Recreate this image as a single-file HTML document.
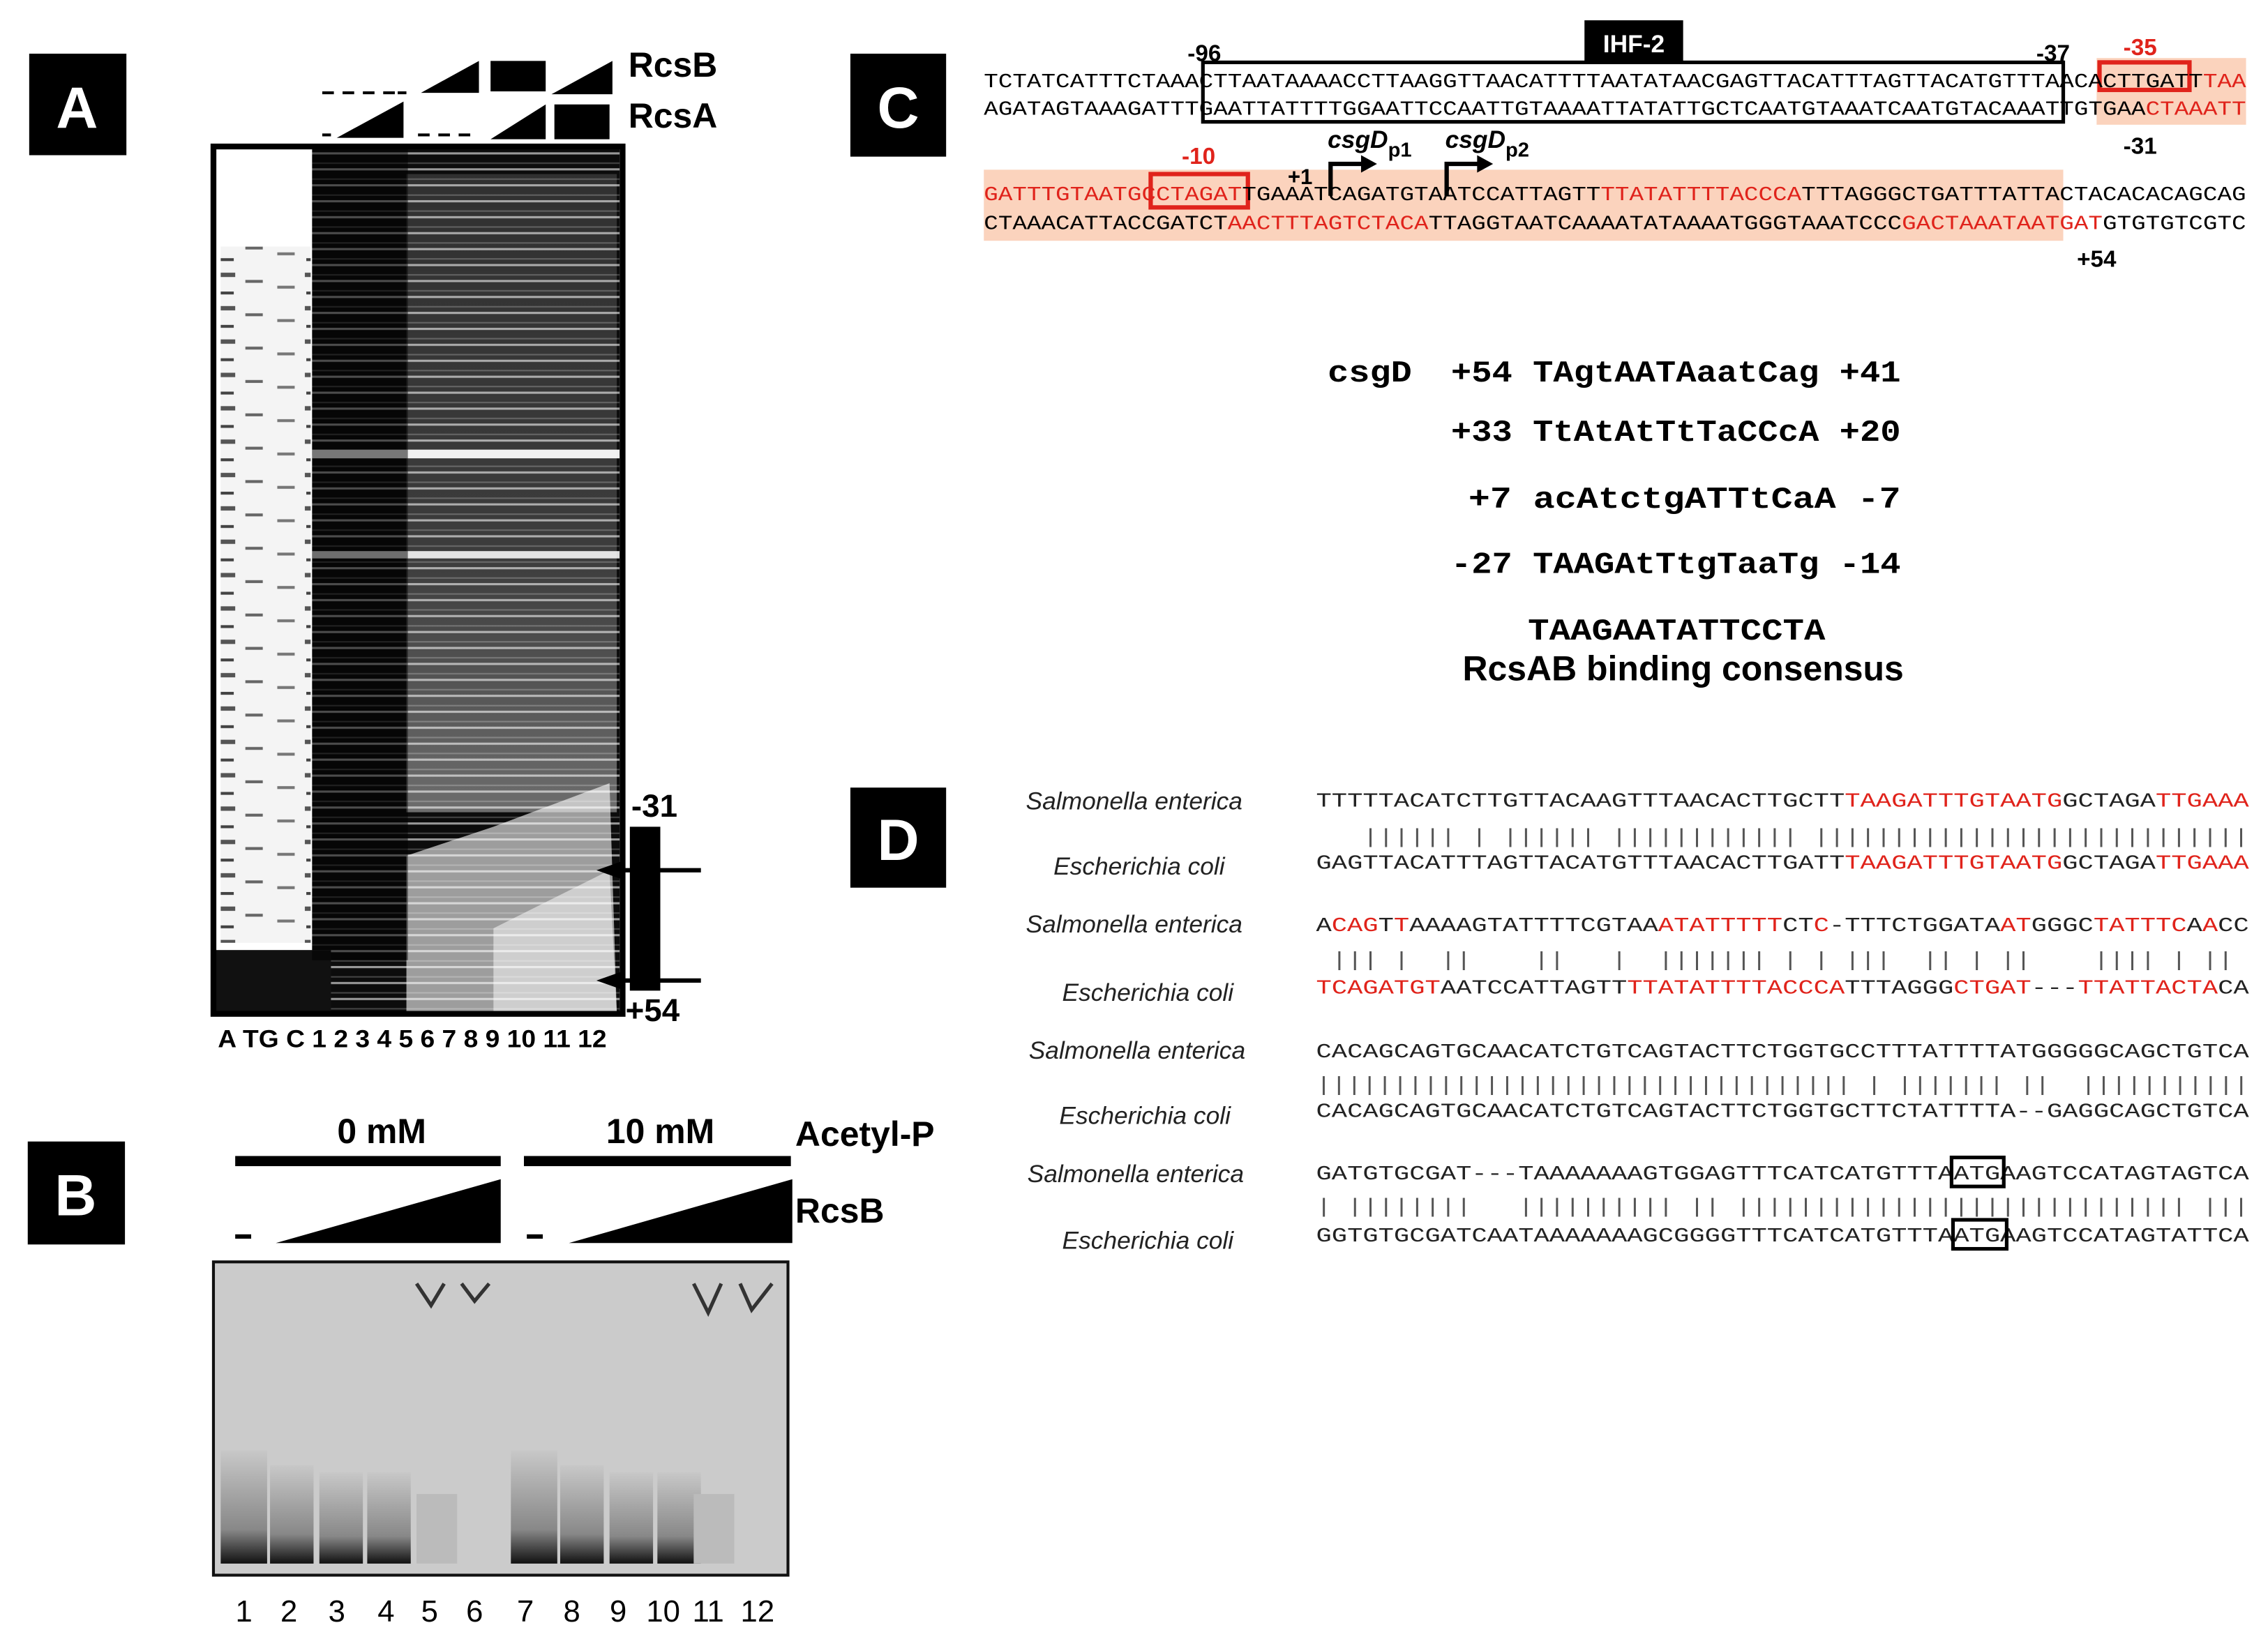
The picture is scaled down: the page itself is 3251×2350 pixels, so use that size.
<!DOCTYPE html>
<html><head><meta charset="utf-8"><style>
html,body{margin:0;padding:0;background:#fff}
svg{display:block}
.m{font-family:"Liberation Mono",monospace;font-size:14px}
.b{font-family:"Liberation Sans",sans-serif;font-weight:bold}
.r{fill:#e0231b}
.it{font-family:"Liberation Sans",sans-serif;font-style:italic;font-size:17px;fill:#222}
</style></head><body>
<svg width="3251" height="2350" viewBox="0 0 1563 1130" xmlns="http://www.w3.org/2000/svg">
<defs>
<pattern id="st" width="6" height="11" patternUnits="userSpaceOnUse">
<rect width="6" height="11" fill="#0c0c0c"/><rect y="6" width="6" height="1.5" fill="#999"/><rect y="2" width="6" height="1" fill="#444"/>
</pattern>
<pattern id="lad" width="62" height="23" patternUnits="userSpaceOnUse">
<rect width="62" height="23" fill="#f4f4f4"/><rect x="24" y="4" width="14" height="3" fill="#555"/><rect x="5" y="13" width="12" height="2" fill="#777"/><rect x="45" y="9" width="12" height="2" fill="#666"/><rect x="25" y="17" width="12" height="2" fill="#444"/>
</pattern>
<linearGradient id="fade" x1="0" y1="0" x2="0" y2="1">
<stop offset="0" stop-color="#fff" stop-opacity="0.15"/><stop offset="0.6" stop-color="#fff" stop-opacity="0.2"/><stop offset="1" stop-color="#fff" stop-opacity="0.4"/>
</linearGradient>
<linearGradient id="band" x1="0" y1="0" x2="0" y2="1">
<stop offset="0" stop-color="#c8c8c8"/><stop offset="0.7" stop-color="#888"/><stop offset="1" stop-color="#111"/>
</linearGradient>
</defs>

<!-- Panel A -->
<rect x="20" y="37" width="67" height="70" fill="#000"/>
<text x="53" y="88" class="b" font-size="40" fill="#fff" text-anchor="middle">A</text>
<path d="M222 64h8M236 64h8M250 64h8M264 64h8M274 64h6" stroke="#000" stroke-width="2"/>
<polygon points="290,64 330,42 330,64" fill="#000"/>
<rect x="338" y="42" width="38" height="21" fill="#000"/>
<polygon points="380,65 422,42 422,65" fill="#000"/>
<path d="M222 93h6M288 93h8M302 93h8M316 93h8" stroke="#000" stroke-width="2"/>
<polygon points="232,95 278,70 278,95" fill="#000"/>
<polygon points="338,96 376,72 376,96" fill="#000"/>
<rect x="382" y="72" width="38" height="24" fill="#000"/>
<text x="433" y="53" class="b" font-size="24">RcsB</text>
<text x="433" y="88" class="b" font-size="24">RcsA</text>
<rect x="148" y="102" width="280" height="596" fill="#fff"/>
<rect x="152" y="170" width="62" height="480" fill="url(#lad)"/>
<rect x="215" y="102" width="212" height="596" fill="url(#st)"/>
<rect x="215" y="310" width="212" height="6" fill="#eee"/>
<rect x="215" y="380" width="212" height="5" fill="#ddd"/>
<rect x="280" y="120" width="145" height="440" fill="url(#fade)"/>
<polygon points="280,590 340,570 420,540 425,698 280,698" fill="#fff" opacity="0.6"/>
<polygon points="340,640 420,600 425,698 340,698" fill="#fff" opacity="0.5"/>
<rect x="148" y="655" width="80" height="43" fill="#111"/>
<rect x="215" y="102" width="66" height="560" fill="#000" opacity="0.5"/>
<rect x="147" y="101" width="282" height="598" fill="none" stroke="#000" stroke-width="4"/>
<text x="435" y="563" class="b" font-size="22">-31</text>
<rect x="434" y="570" width="21" height="113" fill="#000"/>
<line x1="420" y1="600" x2="483" y2="600" stroke="#000" stroke-width="3"/>
<line x1="420" y1="676" x2="483" y2="676" stroke="#000" stroke-width="3"/>
<polygon points="411,600 428,594 428,606" fill="#000"/>
<polygon points="411,676 428,670 428,682" fill="#000"/>
<text x="431" y="704" class="b" font-size="22">+54</text>
<text x="150" y="722" class="b" font-size="17" textLength="268" lengthAdjust="spacingAndGlyphs">A  TG C 1 2 3 4 5 6 7 8 9 10 11 12</text>

<!-- Panel B -->
<rect x="19" y="787" width="67" height="71" fill="#000"/>
<text x="52" y="838" class="b" font-size="40" fill="#fff" text-anchor="middle">B</text>
<text x="263" y="788" class="b" font-size="24" text-anchor="middle">0 mM</text>
<text x="455" y="788" class="b" font-size="24" text-anchor="middle">10 mM</text>
<text x="548" y="790" class="b" font-size="24">Acetyl-P</text>
<rect x="162" y="797" width="183" height="7" fill="#000"/>
<rect x="361" y="797" width="184" height="7" fill="#000"/>
<rect x="162" y="851" width="11" height="3" fill="#000"/>
<rect x="363" y="851" width="11" height="3" fill="#000"/>
<polygon points="190,857 345,813 345,857" fill="#000"/>
<polygon points="392,857 546,813 546,857" fill="#000"/>
<text x="548" y="843" class="b" font-size="24">RcsB</text>
<rect x="147" y="870" width="396" height="216" fill="#cbcbcb" stroke="#111" stroke-width="2"/>
<g fill="url(#band)">
<rect x="152" y="1000" width="32" height="78"/><rect x="186" y="1010" width="30" height="68"/>
<rect x="220" y="1015" width="30" height="63"/><rect x="253" y="1015" width="30" height="63"/>
<rect x="352" y="1000" width="32" height="78"/><rect x="386" y="1010" width="30" height="68"/>
<rect x="420" y="1015" width="30" height="63"/><rect x="453" y="1015" width="30" height="63"/>
</g>
<rect x="287" y="1030" width="28" height="48" fill="#bbb"/>
<rect x="478" y="1030" width="28" height="48" fill="#bbb"/>
<path d="M287 885 L297 900 L306 885 M318 885 L327 897 L337 885 M478 885 L488 905 L497 885 M510 885 L518 903 L532 885" stroke="#333" stroke-width="2.5" fill="none"/>
<g font-family="Liberation Sans,sans-serif" font-size="21" text-anchor="middle">
<text x="168" y="1118">1</text><text x="199" y="1118">2</text><text x="232" y="1118">3</text><text x="266" y="1118">4</text><text x="296" y="1118">5</text><text x="327" y="1118">6</text><text x="362" y="1118">7</text><text x="394" y="1118">8</text><text x="426" y="1118">9</text><text x="457" y="1118">10</text><text x="488" y="1118">11</text><text x="522" y="1118">12</text>
</g>

<!-- Panel C -->
<rect x="586" y="37" width="66" height="71" fill="#000"/>
<text x="619" y="88" class="b" font-size="40" fill="#fff" text-anchor="middle">C</text>
<rect x="1445" y="40" width="103" height="46" fill="#fbd3bd"/>
<rect x="678" y="117" width="744" height="49" fill="#fbd3bd"/>
<rect x="1092" y="14" width="68" height="29" fill="#000"/>
<text x="1126" y="36" class="b" font-size="17" fill="#fff" text-anchor="middle">IHF-2</text>
<text x="830" y="42" class="b" font-size="16" text-anchor="middle">-96</text>
<text x="1415" y="42" class="b" font-size="16" text-anchor="middle">-37</text>
<text x="1475" y="38" class="b r" font-size="16" text-anchor="middle">-35</text>
<rect x="829" y="43" width="593" height="41" fill="none" stroke="#000" stroke-width="2.5"/>
<rect x="1447" y="43" width="62" height="19" fill="none" stroke="#e0231b" stroke-width="3"/>
<text x="678" y="60" class="m" textLength="870" lengthAdjust="spacingAndGlyphs">TCTATCATTTCTAAACTTAATAAAACCTTAAGGTTAACATTTTAATATAACGAGTTACATTTAGTTACATGTTTAACACTTGATT<tspan class="r">TAA</tspan></text>
<text x="678" y="79" class="m" textLength="870" lengthAdjust="spacingAndGlyphs">AGATAGTAAAGATTTGAATTATTTTGGAATTCCAATTGTAAAATTATATTGCTCAATGTAAATCAATGTACAAATTGTGAA<tspan class="r">CTAAATT</tspan></text>
<text x="1475" y="106" class="b" font-size="16" text-anchor="middle">-31</text>
<text x="826" y="113" class="b r" font-size="16" text-anchor="middle">-10</text>
<rect x="793" y="120" width="67" height="23" fill="none" stroke="#e0231b" stroke-width="3"/>
<text x="678" y="138" class="m" textLength="870" lengthAdjust="spacingAndGlyphs"><tspan class="r">GATTTGTAATGCCTAGAT</tspan>TGAAATCAGATGTAATCCATTAGTT<tspan class="r">TTATATTTTACCCA</tspan>TTTAGGGCTGATTTATTACTACACACAGCAG</text>
<text x="678" y="158" class="m" textLength="870" lengthAdjust="spacingAndGlyphs">CTAAACATTACCGATCT<tspan class="r">AACTTTAGTCTACA</tspan>TTAGGTAATCAAAATATAAAATGGGTAAATCCC<tspan class="r">GACTAAATAATGAT</tspan>GTGTGTCGTC</text>
<text x="896" y="127" class="b" font-size="15" text-anchor="middle">+1</text>
<path d="M917 135 V113 H940 M997 135 V113 H1020" stroke="#000" stroke-width="3" fill="none"/>
<polygon points="938,107 949,113 938,119" fill="#000"/>
<polygon points="1018,107 1029,113 1018,119" fill="#000"/>
<text x="915" y="102" class="b" font-size="17" font-style="italic">csgD<tspan font-size="14" dy="6" font-style="normal">p1</tspan></text>
<text x="996" y="102" class="b" font-size="17" font-style="italic">csgD<tspan font-size="14" dy="6" font-style="normal">p2</tspan></text>
<text x="1445" y="184" class="b" font-size="16" text-anchor="middle">+54</text>

<g font-family="Liberation Mono,monospace" font-weight="bold" font-size="21">
<text x="915" y="263" textLength="58" lengthAdjust="spacingAndGlyphs">csgD</text>
<text x="1000" y="263" textLength="310" lengthAdjust="spacingAndGlyphs">+54 TAgtAATAaatCag +41</text>
<text x="1000" y="304" textLength="310" lengthAdjust="spacingAndGlyphs">+33 TtAtAtTtTaCCcA +20</text>
<text x="1012" y="350" textLength="298" lengthAdjust="spacingAndGlyphs">+7 acAtctgATTtCaA  -7</text>
<text x="1000" y="395" textLength="310" lengthAdjust="spacingAndGlyphs">-27 TAAGAtTtgTaaTg -14</text>
<text x="1053" y="441" textLength="205" lengthAdjust="spacingAndGlyphs">TAAGAATATTCCTA</text>
</g>
<text x="1160" y="469" class="b" font-size="24" text-anchor="middle">RcsAB binding consensus</text>

<!-- Panel D -->
<rect x="586" y="543" width="66" height="69" fill="#000"/>
<text x="619" y="593" class="b" font-size="40" fill="#fff" text-anchor="middle">D</text>
<g class="it">
<text x="707" y="558">Salmonella enterica</text><text x="726" y="603">Escherichia coli</text>
<text x="707" y="643">Salmonella enterica</text><text x="732" y="690">Escherichia coli</text>
<text x="709" y="730">Salmonella enterica</text><text x="730" y="775">Escherichia coli</text>
<text x="708" y="815">Salmonella enterica</text><text x="732" y="861">Escherichia coli</text>
</g>
<g class="m" fill="#222">
<text x="907" y="556" textLength="643" lengthAdjust="spacingAndGlyphs">TTTTTACATCTTGTTACAAGTTTAACACTTGCTT<tspan class="r">TAAGATTTGTAATG</tspan>GCTAGA<tspan class="r">TTGAAA</tspan></text>
<text x="907" y="581" fill="#555" textLength="643" lengthAdjust="spacingAndGlyphs" xml:space="preserve">   |||||| | |||||| |||||||||||| ||||||||||||||||||||||||||||</text>
<text x="907" y="599" textLength="643" lengthAdjust="spacingAndGlyphs">GAGTTACATTTAGTTACATGTTTAACACTTGATT<tspan class="r">TAAGATTTGTAATG</tspan>GCTAGA<tspan class="r">TTGAAA</tspan></text>

<text x="907" y="642" textLength="643" lengthAdjust="spacingAndGlyphs">A<tspan class="r">CAG</tspan>T<tspan class="r">T</tspan>AAAAGTATTTTCGTAA<tspan class="r">ATATTTTT</tspan>CT<tspan class="r">C</tspan>-TTTCTGGATA<tspan class="r">AT</tspan>GGGC<tspan class="r">TATTTC</tspan>A<tspan class="r">A</tspan>CC</text>
<text x="907" y="666" fill="#555" textLength="643" lengthAdjust="spacingAndGlyphs" xml:space="preserve"> ||| |  ||    ||   |  ||||||| | | |||  || | ||    |||| | || </text>
<text x="907" y="685" textLength="643" lengthAdjust="spacingAndGlyphs"><tspan class="r">TCAGATGT</tspan>AATCCATTAGTT<tspan class="r">TTATATTTTACCCA</tspan>TTTAGGG<tspan class="r">CTGAT</tspan>---<tspan class="r">TTATTACTA</tspan>CA</text>

<text x="907" y="729" textLength="643" lengthAdjust="spacingAndGlyphs">CACAGCAGTGCAACATCTGTCAGTACTTCTGGTGCCTTTATTTTATGGGGGCAGCTGTCA</text>
<text x="907" y="752" fill="#555" textLength="643" lengthAdjust="spacingAndGlyphs" xml:space="preserve">||||||||||||||||||||||||||||||||||| | ||||||| ||  |||||||||||</text>
<text x="907" y="770" textLength="643" lengthAdjust="spacingAndGlyphs">CACAGCAGTGCAACATCTGTCAGTACTTCTGGTGCTTCTATTTTA--GAGGCAGCTGTCA</text>

<text x="907" y="813" textLength="643" lengthAdjust="spacingAndGlyphs">GATGTGCGAT---TAAAAAAAGTGGAGTTTCATCATGTTTAATGAAGTCCATAGTAGTCA</text>
<text x="907" y="836" fill="#555" textLength="643" lengthAdjust="spacingAndGlyphs" xml:space="preserve">| ||||||||   |||||||||| || ||||||||||||||||||||||||||||| |||</text>
<text x="907" y="856" textLength="643" lengthAdjust="spacingAndGlyphs">GGTGTGCGATCAATAAAAAAAGCGGGGTTTCATCATGTTTAATGAAGTCCATAGTATTCA</text>
</g>
<rect x="1345" y="798" width="36" height="20" fill="none" stroke="#000" stroke-width="2.5"/>
<rect x="1346" y="841" width="37" height="20" fill="none" stroke="#000" stroke-width="2.5"/>
</svg>
</body></html>
